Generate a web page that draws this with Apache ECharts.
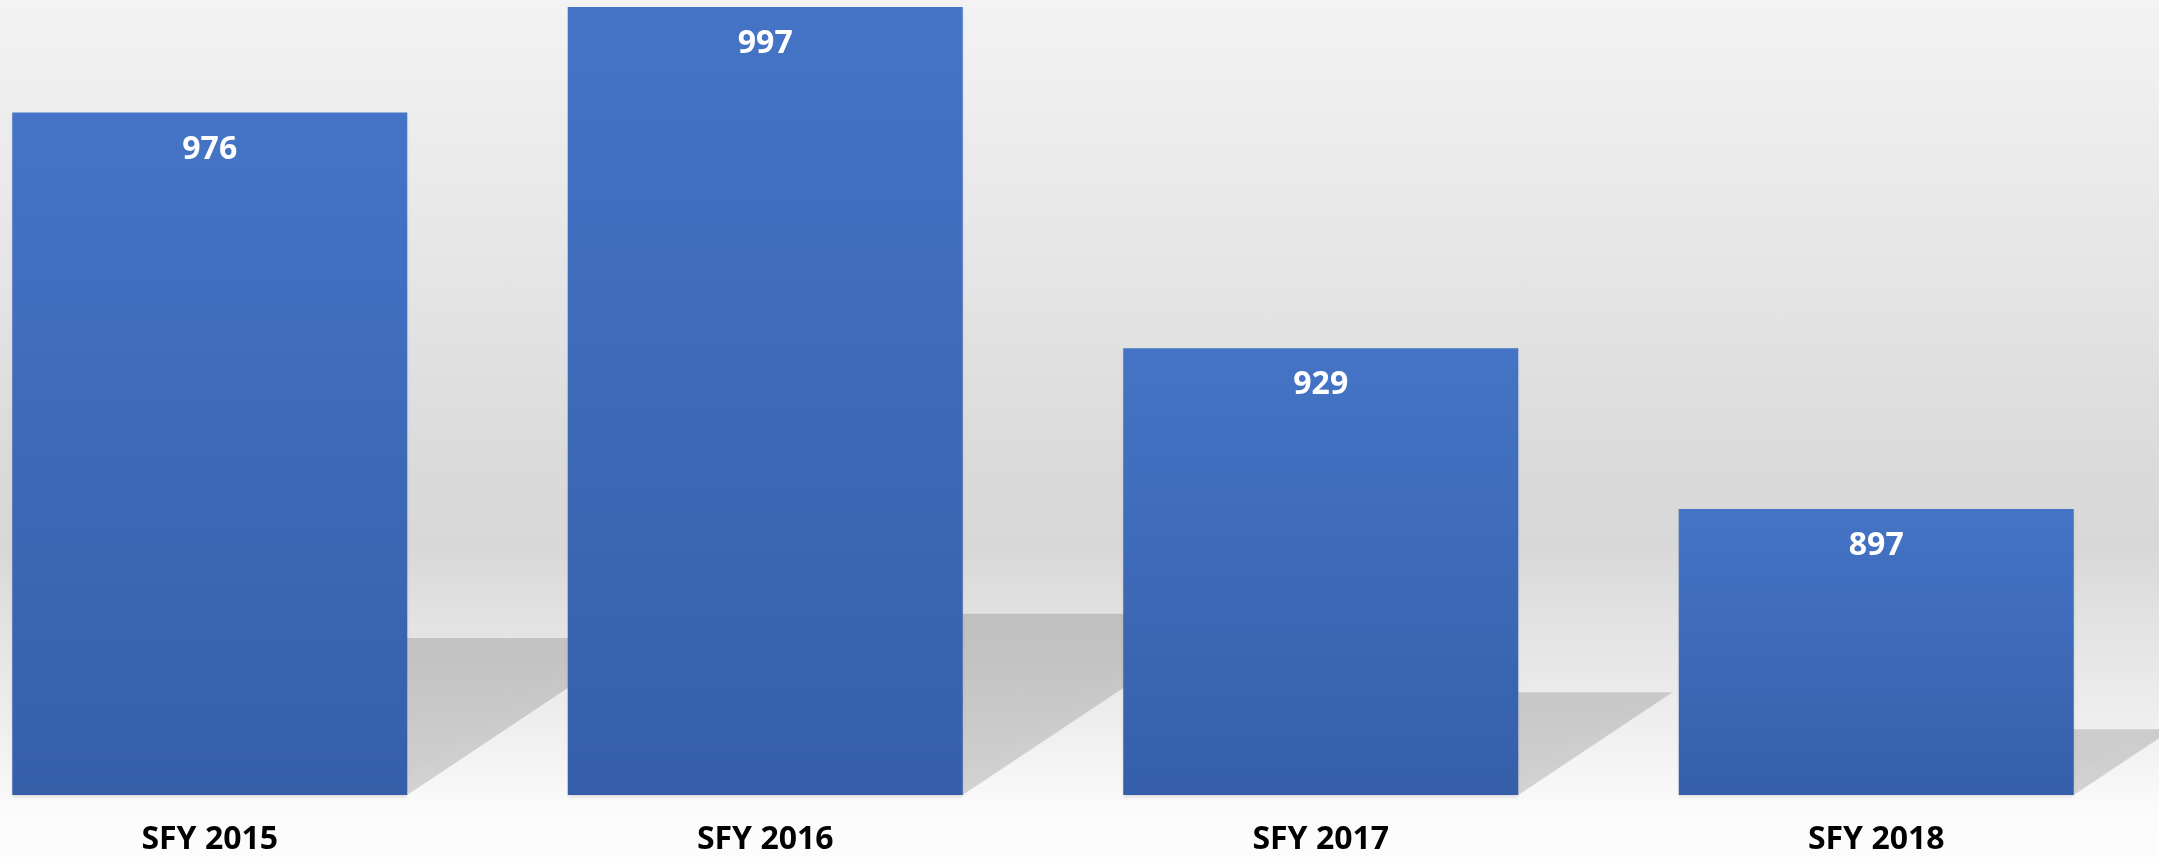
<!DOCTYPE html>
<html>
<head>
<meta charset="utf-8">
<script src="https://cdn.jsdelivr.net/npm/echarts@6/dist/echarts.min.js"></script>
<style>
  * { margin: 0; padding: 0; }
  html, body { width: 2159px; height: 857px; overflow: hidden; }
  #main {
    width: 2159px; height: 857px;
    background: linear-gradient(to bottom, #f3f3f3 0%, #e6e6e6 30%, #dadada 55%, #d8d8d8 64%, #e2e2e2 72%, #ececec 82%, #f6f6f6 91%, #fbfbfb 94%, #fcfcfc 100%);
  }
</style>
</head>
<body>
<!-- container sized to the reference -->
<div id="main"></div>
<script>
  var categories = ['SFY 2015', 'SFY 2016', 'SFY 2017', 'SFY 2018'];
  var values = [976, 997, 929, 897];
  var yMin = 840;
  var yMax = 997;

  var chart = echarts.init(document.getElementById('main'));

  // floor shadow cast to the right of each bar
  function renderShadow(params, api) {
    var top = api.coord([api.value(0), api.value(1)]);
    var base = api.coord([api.value(0), yMin]);
    var w = 395;
    var h = base[1] - top[1];
    var dy = h * 0.23, dx = h * 0.345;
    var xl = base[0] - w / 2, xr = base[0] + w / 2, yb = base[1];
    return {
      type: 'polygon',
      shape: { points: [[xl, yb], [xr, yb], [xr + dx, yb - dy], [xl + dx, yb - dy]] },
      style: {
        fill: 'rgba(0,0,0,0.15)',
        shadowBlur: 12,
        shadowColor: 'rgba(0,0,0,0.05)'
      },
      z2: 0
    };
  }

  chart.setOption({
    grid: {
      left: -68,
      right: 5,
      top: 7,
      bottom: 62,
      outerBoundsMode: 'none',
      containLabel: false
    },
    xAxis: {
      type: 'category',
      data: categories,
      axisLine: { show: false },
      axisTick: { show: false },
      axisLabel: {
        margin: 29,
        color: '#000',
        fontSize: 32,
        fontWeight: 'bold',
        fontFamily: 'Open Sans'
      }
    },
    yAxis: {
      type: 'value',
      min: yMin,
      max: yMax,
      show: false,
      splitLine: { show: false }
    },
    series: [
      {
        type: 'custom',
        renderItem: renderShadow,
        data: values.map(function (v, i) { return [i, v]; }),
        clip: false,
        silent: true,
        z: 1
      },
      {
        type: 'bar',
        data: values,
        barWidth: 395,
        z: 2,
        itemStyle: {
          color: new echarts.graphic.LinearGradient(0, 0, 0, 1, [
            { offset: 0, color: '#4574c6' },
            { offset: 1, color: '#355fa9' }
          ]),
          shadowColor: 'rgba(0,0,0,0.12)',
          shadowBlur: 3,
          shadowOffsetY: 2
        },
        label: {
          show: true,
          position: 'insideTop',
          distance: 21,
          color: '#fff',
          fontSize: 32,
          fontWeight: 'bold',
          fontFamily: 'Open Sans'
        }
      }
    ]
  });
</script>
</body>
</html>
